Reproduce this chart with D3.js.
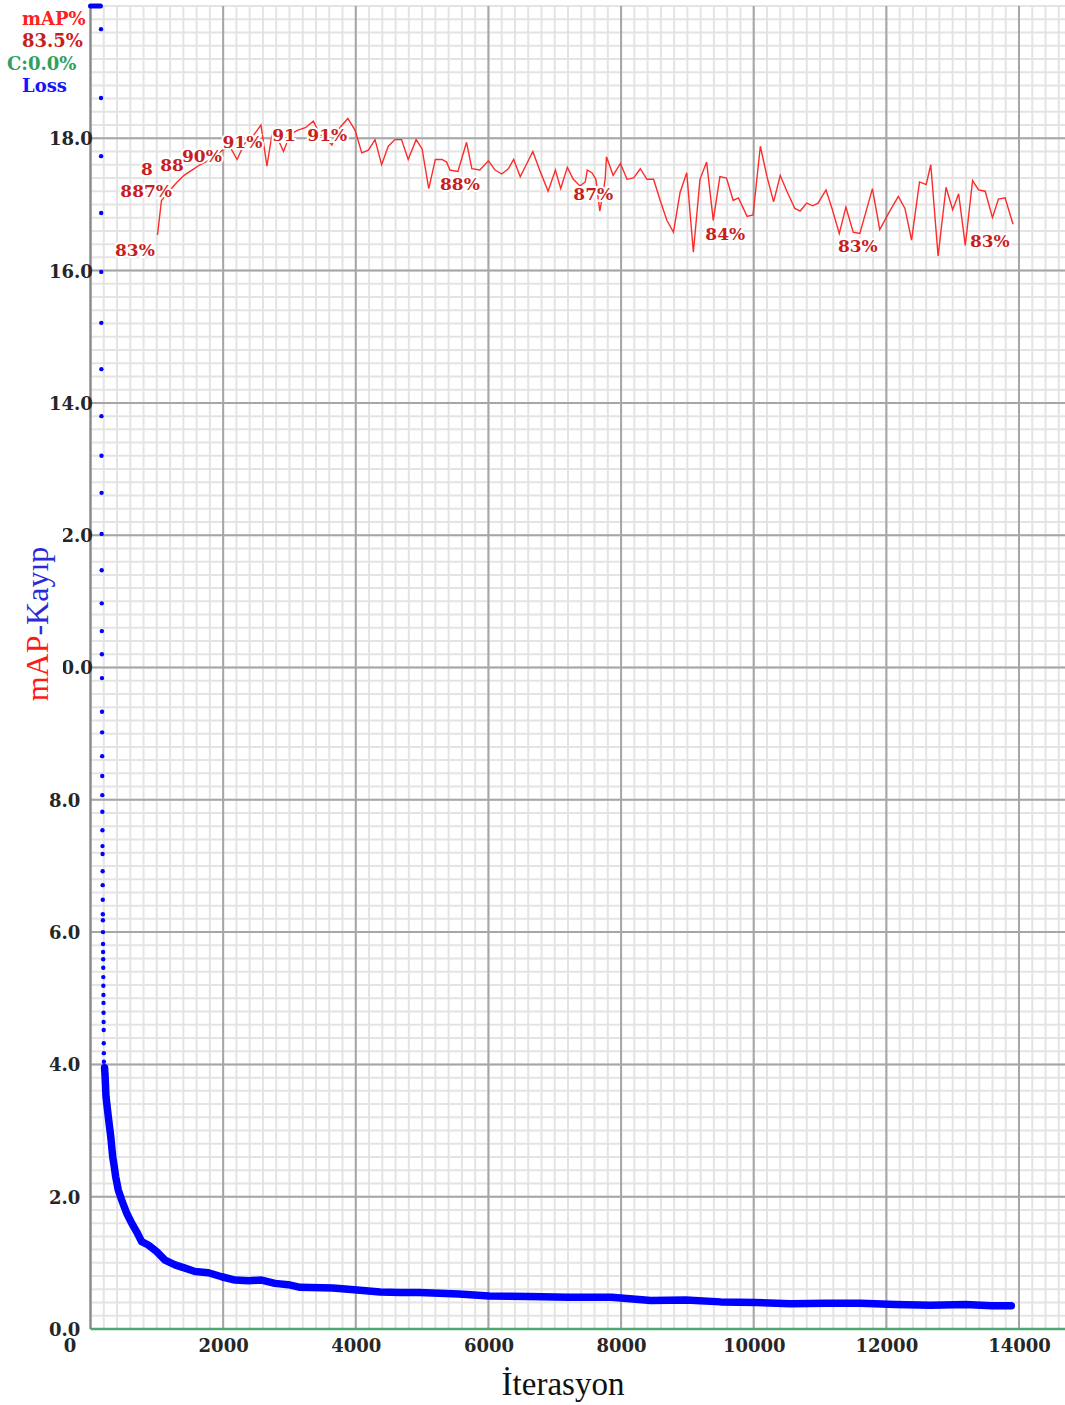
<!DOCTYPE html>
<html>
<head>
<meta charset="utf-8">
<script src="https://cdn.jsdelivr.net/npm/d3@7"></script>
<style>
  body { margin: 0; background: #fff; }
</style>
</head>
<body>
<div id="chart"></div>
<script>
// mAP (%) evaluated during training, red line
var mapIter = [1010, 1070, 1170, 1290, 1410, 1530, 1650, 1770, 1880, 1990,
    2110, 2210, 2320, 2440, 2570, 2660, 2740, 2830, 2910, 3010,
    3120, 3240, 3360, 3460, 3550, 3640, 3760, 3880, 3990, 4090,
    4190, 4290, 4390, 4490, 4590, 4690, 4790, 4910, 5000, 5100,
    5200, 5300, 5370, 5420, 5540, 5670, 5750, 5870, 6000, 6100,
    6200, 6300, 6380, 6480, 6570, 6670, 6780, 6900, 7010, 7090,
    7190, 7280, 7380, 7460, 7490, 7560, 7620, 7680, 7760, 7780,
    7880, 7990, 8090, 8190, 8290, 8390, 8490, 8590, 8690, 8790,
    8890, 8990, 9090, 9190, 9290, 9390, 9490, 9590, 9690, 9770,
    9900, 9990, 10100, 10200, 10300, 10400, 10500, 10620, 10700, 10800,
    10890, 10970, 11090, 11180, 11290, 11390, 11500, 11600, 11690, 11790,
    11900, 12030, 12180, 12280, 12380, 12500, 12600, 12670, 12780, 12900,
    13000, 13090, 13190, 13300, 13390, 13490, 13600, 13690, 13790, 13910]
var mapValue = [82.7, 85.3, 85.9, 86.6, 87.2, 87.6, 88.0, 88.3, 88.7, 89.1,
    89.3, 88.4, 89.6, 90.1, 91.0, 87.9, 90.4, 89.9, 89.0, 90.3,
    90.6, 90.8, 91.3, 90.3, 90.0, 89.5, 90.8, 91.5, 90.6, 88.9,
    89.1, 89.9, 88.0, 89.4, 89.9, 89.9, 88.4, 89.9, 89.2, 86.2,
    88.4, 88.4, 88.2, 87.6, 87.5, 89.7, 87.7, 87.6, 88.3, 87.6,
    87.3, 87.7, 88.4, 87.1, 88.0, 89.0, 87.5, 86.0, 87.6, 86.2,
    87.8, 86.9, 86.4, 86.7, 87.6, 87.4, 86.9, 84.5, 86.9, 88.6,
    87.2, 88.1, 86.9, 87.0, 87.7, 86.9, 86.9, 85.3, 83.8, 82.9,
    85.9, 87.4, 81.4, 86.9, 88.2, 83.8, 87.1, 87.0, 85.3, 85.5,
    84.1, 84.2, 89.4, 87.1, 85.2, 87.2, 86.0, 84.7, 84.5, 85.1,
    84.9, 85.1, 86.1, 84.7, 82.8, 84.8, 82.9, 82.8, 84.4, 86.2,
    83.1, 84.3, 85.6, 84.7, 82.3, 86.7, 86.5, 88.0, 81.1, 86.3,
    84.6, 85.8, 81.9, 86.8, 86.1, 86.0, 84.0, 85.4, 85.5, 83.5]

// mAP labels written on the chart (text, left/baseline anchor in data units)
var labelText = ["83%", "887%", "8", "88", "90%", "91%", "91", "91%", "88%", "87%", "84%", "83%", "83%"]
var labelIter = [370, 450, 760, 1050, 1380, 1990, 2740, 3270, 5270, 7280, 9270, 11270, 13260]
var labelValue = [81.1, 85.6, 87.2, 87.5, 88.2, 89.3, 89.8, 89.8, 86.1, 85.3, 82.3, 81.4, 81.8]

// loss above the chart top (clipped)
var lossTopIter = [0, 150]
var lossTopValue = [20, 20]

// first iterations, single dots
var lossEarlyIter = [158, 159, 160, 161, 162, 163, 164, 165, 166, 167,
    168, 169, 170, 171, 172, 173, 174, 175, 176, 177,
    178, 179, 180, 181, 182, 183, 184, 185, 186, 187,
    188, 189, 190, 191, 192, 193, 194, 195, 196, 197,
    198, 199, 200, 201, 202]
var lossEarlyValue = [19.65, 18.61, 17.73, 16.87, 15.98, 15.21, 14.51, 13.80, 13.20, 12.64,
    12.02, 11.47, 10.97, 10.55, 10.20, 9.84, 9.33, 9.02, 8.66, 8.36,
    8.07, 7.82, 7.54, 7.30, 7.18, 6.92, 6.71, 6.49, 6.27, 6.18,
    6.00, 5.82, 5.70, 5.59, 5.46, 5.32, 5.19, 5.05, 4.93, 4.78,
    4.64, 4.52, 4.32, 4.17, 4.04]

// rest of the loss curve
var lossIter = [212, 219, 234, 268, 305, 335, 359, 380, 419, 470,
    546, 621, 696, 772, 871, 998, 1123, 1274, 1425, 1575,
    1776, 1978, 2178, 2379, 2581, 2781, 2982, 3160, 3658, 4020,
    4367, 4668, 4960, 5552, 6013, 6606, 7198, 7857, 8450, 8976,
    9502, 10029, 10557, 11085, 11611, 12139, 12665, 13192, 13587, 13884]
var lossValue = [3.95, 3.84, 3.51, 3.21, 2.91, 2.60, 2.45, 2.30, 2.10, 1.95,
    1.75, 1.60, 1.47, 1.32, 1.27, 1.17, 1.04, 0.97, 0.92, 0.87,
    0.85, 0.79, 0.74, 0.73, 0.74, 0.69, 0.67, 0.63, 0.62, 0.59,
    0.56, 0.55, 0.55, 0.53, 0.50, 0.49, 0.48, 0.48, 0.43, 0.44,
    0.41, 0.40, 0.38, 0.39, 0.39, 0.37, 0.36, 0.37, 0.35, 0.35]

var xTicks = [0, 2000, 4000, 6000, 8000, 10000, 12000, 14000]
var yTicks = [0, 2, 4, 6, 8, 10, 12, 14, 16, 18]

// legend lines at the top left
var legendText = ["mAP%", "83.5%", "C:0.0%", "Loss"]
var legendColor = ["#ff2020", "#c81e1e", "#2ea060", "#1414ff"]

// page size and plot frame
var width = 1065
var height = 1405
var plotLeft = 90.5, plotRight = 1019, plotTop = 6, plotBottom = 1329

var svg = d3.select("#chart")
    .append("svg")
        .attr("width", width)
        .attr("height", height)
        .style("font-family", "'DejaVu Serif', serif")

var x = d3.scaleLinear().domain([0, 14000]).range([plotLeft, plotRight])
var yLoss = d3.scaleLinear().domain([0, 20]).range([plotBottom, plotTop]).clamp(true)
var yMap = d3.scaleLinear().domain([0, 100]).range([plotBottom, plotTop])

var xMax = x.invert(width)

// minor grid
var grid = svg.append("g")
grid.selectAll(".vminor")
    .data(d3.range(200, xMax, 200))
    .enter().append("line")
        .attr("x1", d => x(d)).attr("x2", d => x(d))
        .attr("y1", plotTop).attr("y2", plotBottom)
        .attr("stroke", "#e4e4e4").attr("stroke-width", 2)
grid.selectAll(".hminor")
    .data(d3.range(1, 101).map(d => d / 5))
    .enter().append("line")
        .attr("x1", plotLeft).attr("x2", width)
        .attr("y1", d => yLoss(d)).attr("y2", d => yLoss(d))
        .attr("stroke", "#e4e4e4").attr("stroke-width", 2)

// major grid
grid.selectAll(".vmajor")
    .data(d3.range(2000, xMax, 2000))
    .enter().append("line")
        .attr("x1", d => x(d)).attr("x2", d => x(d))
        .attr("y1", plotTop).attr("y2", plotBottom)
        .attr("stroke", "#a6a6a6").attr("stroke-width", 2)
grid.selectAll(".hmajor")
    .data(yTicks.slice(1))
    .enter().append("line")
        .attr("x1", plotLeft).attr("x2", width)
        .attr("y1", d => yLoss(d)).attr("y2", d => yLoss(d))
        .attr("stroke", "#a6a6a6").attr("stroke-width", 2)

// left border
svg.append("line")
    .attr("x1", plotLeft).attr("x2", plotLeft)
    .attr("y1", plotTop).attr("y2", plotBottom)
    .attr("stroke", "#8c8c8c").attr("stroke-width", 2.5)

// tick labels
var yAxis = svg.append("g")
    .attr("transform", "translate(49,0)")
    .call(d3.axisLeft(yLoss).tickValues(yTicks).tickFormat(d3.format(".1f")).tickSize(0).tickPadding(0))
yAxis.select(".domain").remove()
yAxis.selectAll("text")
    .attr("text-anchor", "start")
    .attr("x", 0)
    .attr("dy", "0.36em")
    .style("font-family", "'DejaVu Serif', serif")
    .style("font-size", "18px")
    .style("font-weight", "bold")
    .attr("fill", "#262626")

var xAxis = svg.append("g")
    .attr("transform", "translate(0," + plotBottom + ")")
    .call(d3.axisBottom(x).tickValues(xTicks).tickFormat(d3.format("d")).tickSize(0).tickPadding(10))
xAxis.select(".domain").remove()
xAxis.selectAll("text")
    .attr("x", d => d == 0 ? -21 : 0)
    .style("font-family", "'DejaVu Serif', serif")
    .style("font-size", "18px")
    .style("font-weight", "bold")
    .attr("fill", "#262626")

// C (green) line at zero
svg.append("line")
    .attr("x1", plotLeft).attr("x2", width)
    .attr("y1", plotBottom).attr("y2", plotBottom)
    .attr("stroke", "#4fa873").attr("stroke-width", 2.5)

// loss
svg.append("path")
    .datum(lossTopIter.map((d, i) => [d, lossTopValue[i]]))
    .attr("fill", "none")
    .attr("stroke", "#0000ff")
    .attr("stroke-width", 5)
    .attr("stroke-linecap", "round")
    .attr("d", d3.line().x(d => x(d[0])).y(d => yLoss(d[1])))

svg.append("g").selectAll("circle")
    .data(lossEarlyIter.map((d, i) => [d, lossEarlyValue[i]]))
    .enter().append("circle")
        .attr("cx", d => x(d[0]))
        .attr("cy", d => yLoss(d[1]))
        .attr("r", 2.2)
        .attr("fill", "#0000ff")

svg.append("path")
    .datum(lossIter.map((d, i) => [d, lossValue[i]]))
    .attr("fill", "none")
    .attr("stroke", "#0000ff")
    .attr("stroke-width", 7.5)
    .attr("stroke-linejoin", "round")
    .attr("stroke-linecap", "round")
    .attr("d", d3.line().x(d => x(d[0])).y(d => yLoss(d[1])))

// mAP line
svg.append("path")
    .datum(mapIter.map((d, i) => [d, mapValue[i]]))
    .attr("fill", "none")
    .attr("stroke", "#ff2a2a")
    .attr("stroke-width", 1.4)
    .attr("d", d3.line().x(d => x(d[0])).y(d => yMap(d[1])))

// mAP labels
svg.append("g").selectAll("text")
    .data(labelText.map((d, i) => ({text: d, it: labelIter[i], v: labelValue[i]})))
    .enter().append("text")
        .attr("x", d => x(d.it))
        .attr("y", d => yMap(d.v))
        .text(d => d.text)
        .style("font-size", "17px")
        .style("font-weight", "bold")
        .attr("fill", "#c81e1e")
        .attr("stroke", "#fff")
        .attr("stroke-width", 4)
        .attr("paint-order", "stroke")

// legend
svg.append("g").selectAll("text")
    .data(legendText)
    .enter().append("text")
        .attr("x", (d, i) => i == 2 ? 7 : 22)
        .attr("y", (d, i) => 25 + i * 22.3)
        .text(d => d)
        .style("font-size", "18px")
        .style("font-weight", "bold")
        .attr("fill", (d, i) => legendColor[i])

// y title on a white patch
svg.append("rect")
    .attr("x", 0).attr("y", 527)
    .attr("width", 63).attr("height", 185)
    .attr("fill", "#fff")
var yTitle = svg.append("text")
    .attr("transform", "translate(48," + 624 + ") rotate(-90)")
    .attr("text-anchor", "middle")
    .style("font-family", "'Liberation Serif', serif")
    .style("font-size", "32px")
yTitle.append("tspan").attr("fill", "#ff1a1a").text("mAP")
yTitle.append("tspan").attr("fill", "#2a2ad8").text("-Kayıp")

// x title
svg.append("text")
    .attr("x", 563).attr("y", 1395)
    .attr("text-anchor", "middle")
    .style("font-family", "'Liberation Serif', serif")
    .style("font-size", "33px")
    .attr("fill", "#111")
    .text("İterasyon")
</script>
</body>
</html>
